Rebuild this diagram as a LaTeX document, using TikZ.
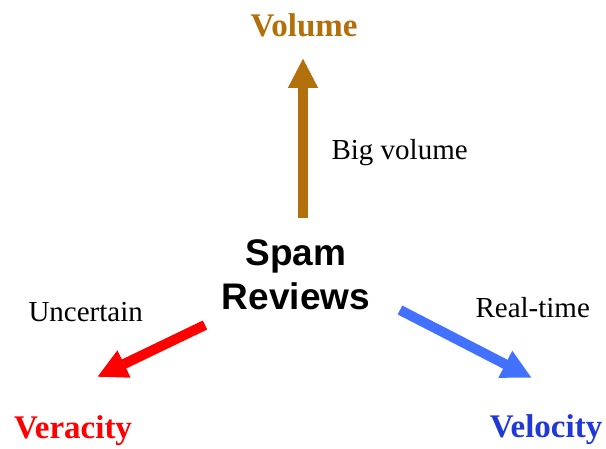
\documentclass[tikz,border=0pt]{standalone}
\usepackage{fontspec}
\setmainfont{Liberation Serif}
\setsansfont{Liberation Sans}
\usetikzlibrary{arrows.meta}

\definecolor{volbrown}{RGB}{178,112,12}
\definecolor{velblue}{RGB}{32,56,214}
\definecolor{arrblue}{RGB}{66,112,255}

\tikzset{
	vlabel/.style = {font=\fontsize{33}{36}\selectfont\bfseries, anchor=base},
	elabel/.style = {font=\fontsize{29}{32}\selectfont, anchor=base west},
	bigarrow/.style = {line width=10pt, -{Triangle[length=30pt,width=28pt]}}
}

\begin{document}
\begin{tikzpicture}[x=1pt, y=1pt]
	\useasboundingbox (0,0) rectangle (606,448);
	% the three V's
	\node[vlabel, text=volbrown] (volume) at (304,411) {Volume};
	\node[vlabel, text=red] (veracity) at (73,10) {Veracity};
	\node[vlabel, text=velblue] (velocity) at (546,11) {Velocity};
	% centre
	\node[font=\fontsize{37}{44}\selectfont\sffamily\bfseries, align=center] (spam) at (296,173) {Spam\\Reviews};
	% arrow ends
	\coordinate (vol0) at (303,230);
	\coordinate (vol1) at (303,390);
	\coordinate (ver0) at (205,123);
	\coordinate (ver1) at (97,71);
	\coordinate (vel0) at (400,138);
	\coordinate (vel1) at (532,70);
	\draw[bigarrow, volbrown] (vol0) -- (vol1);
	\draw[bigarrow, red] (ver0) -- (ver1);
	\draw[bigarrow, arrblue] (vel0) -- (vel1);
	% edge texts
	\node[elabel] (big) at (328,288) {Big volume};
	\node[elabel] (unc) at (25,126) {Uncertain};
	\node[elabel] (real) at (472,130) {Real-time};
\end{tikzpicture}
\end{document}
